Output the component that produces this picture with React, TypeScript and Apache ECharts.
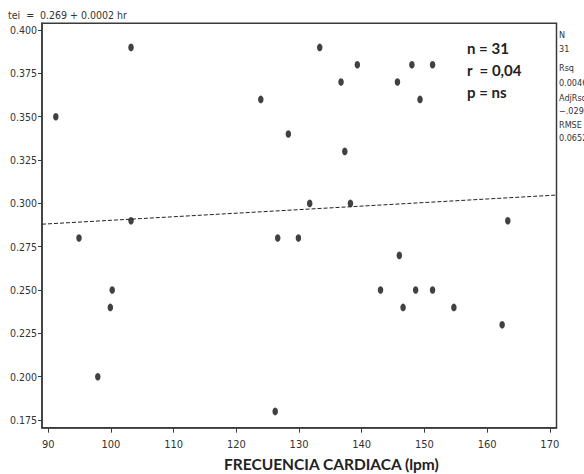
import React, { useEffect, useRef } from "react";
import * as echarts from "echarts";

const hrValues = [91.2, 94.9, 97.9, 99.9, 100.2, 103.2, 103.2, 123.9, 126.2, 126.6, 128.3, 129.9, 131.7, 133.3, 136.7, 137.3, 138.2, 139.3, 143.0, 145.7, 146.0, 146.6, 148.0, 148.6, 149.3, 151.3, 151.3, 154.7, 162.4, 163.3];
const teiValues = [0.35, 0.28, 0.2, 0.24, 0.25, 0.39, 0.29, 0.36, 0.18, 0.28, 0.34, 0.28, 0.3, 0.39, 0.37, 0.33, 0.3, 0.38, 0.25, 0.37, 0.27, 0.24, 0.38, 0.25, 0.36, 0.25, 0.38, 0.24, 0.23, 0.29];
const fitX = [89, 171];
const fitY = [0.288, 0.3048];
const xTicks = [90, 100, 110, 120, 130, 140, 150, 160, 170];
const yTicks = [0.175, 0.2, 0.225, 0.25, 0.275, 0.3, 0.325, 0.35, 0.375, 0.4];
const statLines = ["n = 31", "r  = 0,04", "p = ns"];
const sideLines = ["N", "31", "Rsq", "0.0046", "AdjRsq", "\u2212.029", "RMSE", "0.0652"];
const sideY = [35, 49, 68, 83, 98, 111, 125, 138];
const formula = "tei  =  0.269 + 0.0002 hr";
const xTitle = "FRECUENCIA CARDIACA (lpm)";

const narrow = "'Liberation Sans Narrow','DejaVu Sans Condensed','Liberation Sans',sans-serif";

export default function App() {
  const ref = useRef<HTMLDivElement>(null);
  useEffect(() => {
    if (!ref.current) return;
    const chart = echarts.init(ref.current, null, { renderer: "svg" });
    const points = hrValues.map((h, i) => [h, teiValues[i]]);
    const fit = fitX.map((x, i) => [x, fitY[i]]);
    chart.setOption({
      animation: false,
      backgroundColor: "#ffffff",
      grid: {
        left: 42,
        right: 27.5,
        top: 23.3,
        bottom: 46.3,
        show: true,
        borderColor: "#3a3a3a",
        borderWidth: 1.5,
        containLabel: false,
      },
      xAxis: {
        type: "value",
        min: 89,
        max: 171.07,
        splitLine: { show: false },
        axisLine: { show: true, onZero: false, lineStyle: { color: "#3a3a3a", width: 1.5 } },
        axisTick: { show: true, length: 5, customValues: xTicks, lineStyle: { color: "#3a3a3a" } },
        axisLabel: {
          customValues: xTicks,
          margin: 11,
          color: "#333",
          fontSize: 11,
          fontFamily: narrow,
        },
      },
      yAxis: {
        type: "value",
        min: 0.1706,
        max: 0.4039,
        splitLine: { show: false },
        axisLine: { show: true, onZero: false, lineStyle: { color: "#3a3a3a", width: 1.5 } },
        axisTick: { show: true, length: 4, customValues: yTicks, lineStyle: { color: "#3a3a3a" } },
        axisLabel: {
          customValues: yTicks,
          margin: 5,
          color: "#333",
          fontSize: 10.5,
          fontFamily: narrow,
          formatter: (v: number) => v.toFixed(3),
        },
      },
      series: [
        {
          type: "line",
          data: fit,
          symbol: "none",
          lineStyle: { color: "#222", width: 1, type: [4, 2] },
          silent: true,
        },
        {
          type: "scatter",
          data: points,
          symbol: "circle",
          symbolSize: [5.5, 7.5],
          itemStyle: { color: "#111" },
        },
      ],
      graphic: [
        {
          type: "text",
          left: 8,
          top: 9,
          style: { text: formula, fontSize: 10.5, fontFamily: narrow, fill: "#333" },
        },
        {
          type: "text",
          left: 316 - 92,
          top: 456,
          style: { text: xTitle, fontSize: 15.5, fontWeight: "bold", fontFamily: "Lato, 'Open Sans', sans-serif", fill: "#222" },
        },
        ...statLines.map((t, i) => ({
          type: "text",
          left: 467,
          top: 40 + i * 22,
          style: { text: t, fontSize: 15, fontWeight: "bold", fontFamily: "Lato, 'Open Sans', sans-serif", fill: "#222" },
        })),
        ...sideLines.map((t, i) => ({
          type: "text",
          left: 559,
          top: sideY[i] - 5,
          style: { text: t, fontSize: 9, fontFamily: narrow, fill: "#333" },
        })),
      ],
    });
    return () => chart.dispose();
  }, []);
  return <div ref={ref} style={{ position: "fixed", left: 0, top: 0, width: 584, height: 474 }} />;
}
